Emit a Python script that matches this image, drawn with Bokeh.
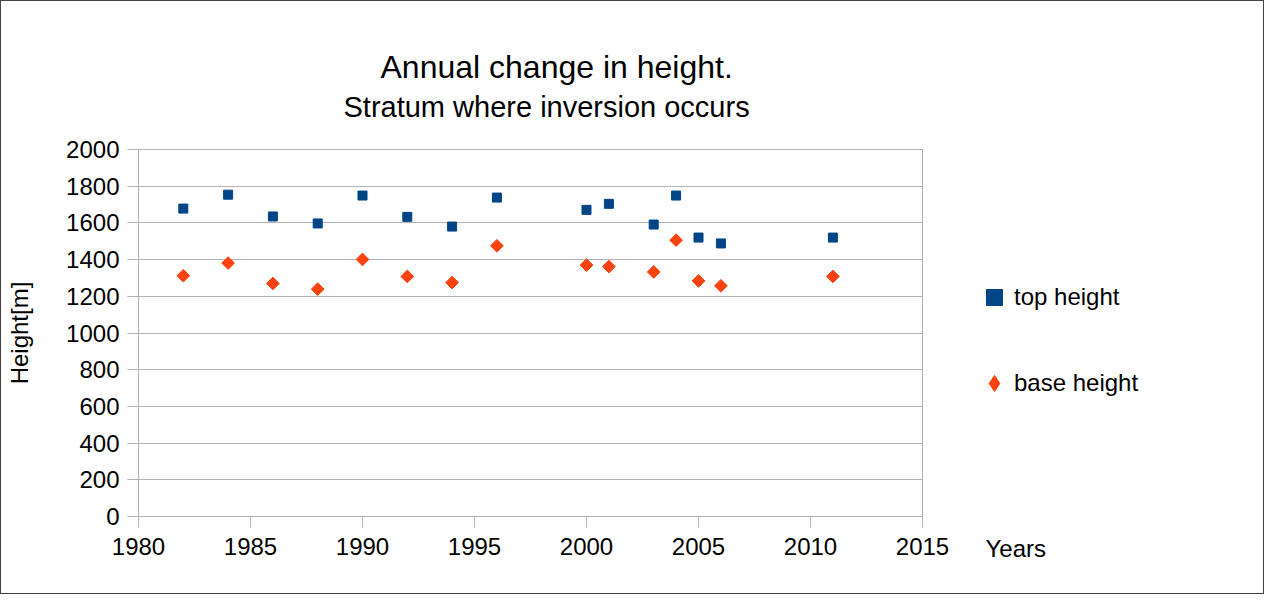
import math
from bokeh.plotting import figure
from bokeh.models import Legend, LegendItem, FixedTicker, Range1d, Title
from bokeh.embed import file_html
from bokeh.resources import INLINE

years = [1982, 1984, 1986, 1988, 1990, 1992, 1994, 1996, 2000, 2001, 2003, 2004, 2005, 2006, 2011]
top_height = [1678, 1754, 1635, 1597, 1749, 1633, 1580, 1738, 1671, 1704, 1591, 1749, 1520, 1488, 1520]
base_height = [1312, 1381, 1270, 1239, 1401, 1308, 1275, 1475, 1370, 1362, 1333, 1506, 1284, 1257, 1308]
x_ticks = [1980, 1985, 1990, 1995, 2000, 2005, 2010, 2015]
y_ticks = [0, 200, 400, 600, 800, 1000, 1200, 1400, 1600, 1800, 2000]

FONT = "Liberation Sans"
GRID = "#b3b3b3"
BLUE = "#004586"
ORANGE = "#ff420e"

p = figure(width=1264, height=594, output_backend="svg", toolbar_location=None,
           x_range=Range1d(1980, 2015), y_range=Range1d(0, 2000),
           min_border_left=137, min_border_right=343, min_border_top=148, min_border_bottom=79)
p.styles = {"border": "1px solid #444444"}
p.background_fill_color = "white"
p.border_fill_color = "white"
p.outline_line_color = GRID

p.xgrid.grid_line_color = None
p.ygrid.grid_line_color = GRID
p.ygrid.grid_line_width = 1

for ax in (p.xaxis[0], p.yaxis[0]):
    ax.axis_line_color = GRID
    ax.major_tick_line_color = GRID
    ax.minor_tick_line_color = None
    ax.major_tick_in = 0
    ax.major_tick_out = 11
    ax.major_label_text_font = FONT
    ax.major_label_text_font_size = "24px"
    ax.major_label_text_color = "black"
    ax.major_label_standoff = 8

p.xaxis[0].ticker = FixedTicker(ticks=x_ticks)
p.yaxis[0].ticker = FixedTicker(ticks=y_ticks)
p.xaxis[0].major_label_standoff = 10

p.yaxis[0].axis_label = "Height[m]"
p.yaxis[0].axis_label_text_font = FONT
p.yaxis[0].axis_label_text_font_size = "24px"
p.yaxis[0].axis_label_text_font_style = "normal"
p.yaxis[0].axis_label_text_color = "black"
p.yaxis[0].axis_label_standoff = 30

r_top = p.scatter(years, top_height, marker="square", size=9,
                  fill_color=BLUE, line_color=BLUE)
r_base = p.scatter(years, base_height, marker="square", size=9, angle=math.pi / 4,
                   fill_color=ORANGE, line_color=ORANGE)
# legend key for the diamond symbol (legend glyphs ignore marker angle); not drawn in the plot
r_base_key = p.scatter([float("nan")], [float("nan")], marker="diamond",
                       fill_color=ORANGE, line_color=ORANGE)

legend = Legend(items=[LegendItem(label="top height", renderers=[r_top]),
                       LegendItem(label="base height", renderers=[r_base_key])],
                location=(52, 113), orientation="vertical",
                glyph_width=40, glyph_height=40, label_height=40, label_standoff=0,
                spacing=46, padding=0, margin=-150,
                label_text_font=FONT, label_text_font_size="24px", label_text_color="black",
                background_fill_alpha=0, border_line_color=None)
p.add_layout(legend, "right")

# main title (outermost)
p.title.text = "Annual change in height."
p.title.text_font = FONT
p.title.text_font_size = "32px"
p.title.text_font_style = "normal"
p.title.text_color = "black"
p.title.align = "left"
p.title.offset = 242
p.title.standoff = -47

# subtitle, closest to the frame
p.add_layout(Title(text="Stratum where inversion occurs", text_font=FONT, text_font_size="29px",
                   text_font_style="normal", text_color="black", align="left",
                   offset=205, standoff=54), "above")

p.add_layout(Title(text="Years", text_font=FONT, text_font_size="24px",
                   text_font_style="normal", text_color="black", align="left",
                   vertical_align="top", offset=847, standoff=-46), "below")

open("out.html", "w").write(file_html(p, INLINE))
